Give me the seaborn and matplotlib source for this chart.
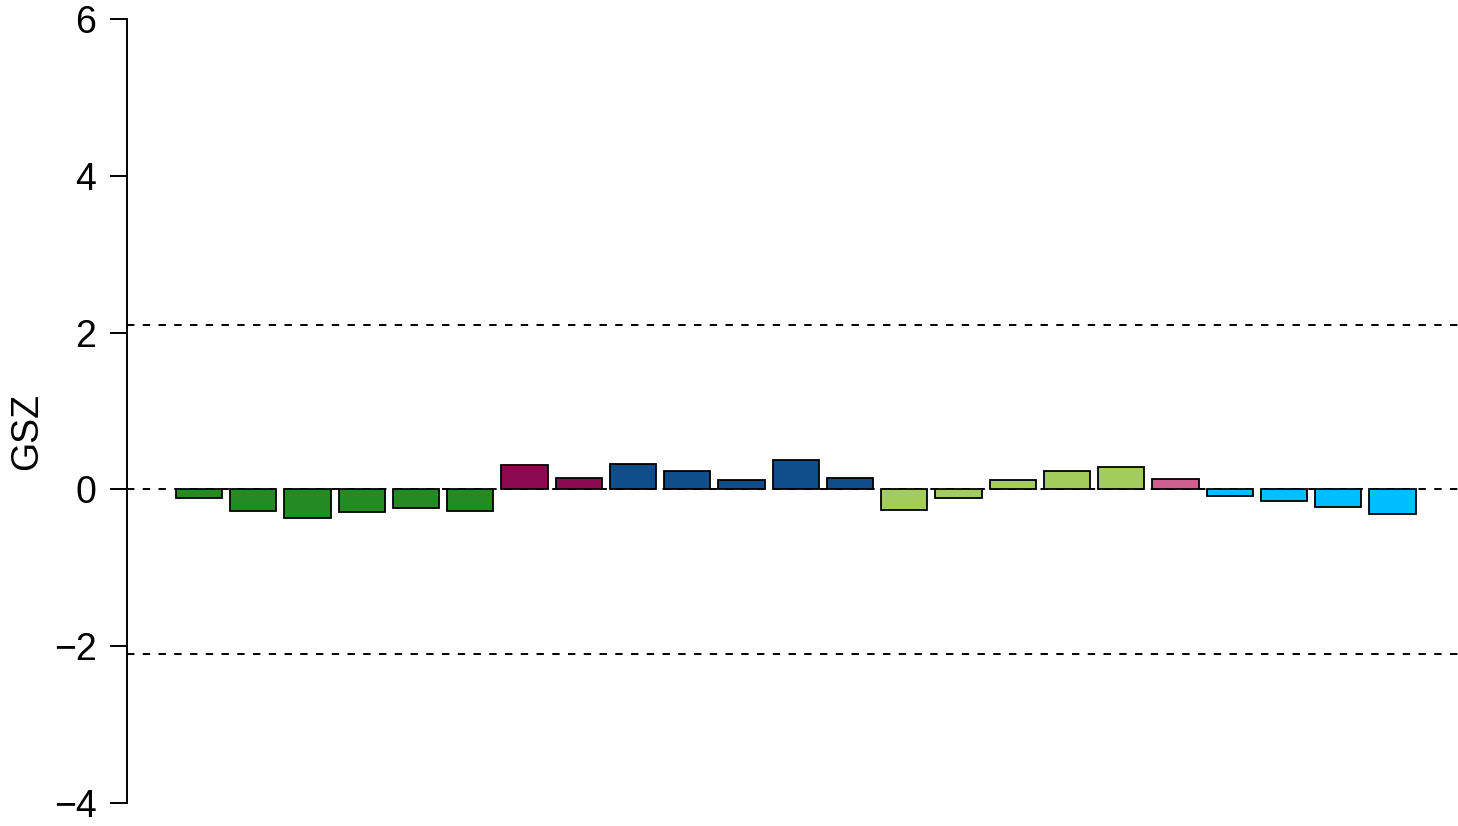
import numpy as np
import pandas as pd
import seaborn as sns
import matplotlib.pyplot as plt

# values
bar_ids = [f'b{i + 1}' for i in range(23)]
gsz = [-0.11, -0.27, -0.36, -0.29, -0.24, -0.27,
       0.31, 0.14,
       0.32, 0.24, 0.115, 0.38, 0.145,
       -0.26, -0.105, 0.125, 0.23, 0.29,
       0.13,
       -0.08, -0.15, -0.23, -0.32]
groups = ['g1'] * 6 + ['g2'] * 2 + ['g3'] * 5 + ['g4'] * 5 + ['g5'] * 1 + ['g6'] * 4
group_colors = {'g1': '#228B22', 'g2': '#8B0A50', 'g3': '#104E8B',
                'g4': '#A2CD5A', 'g5': '#CD6090', 'g6': '#00BFFF'}
cutoff = 2.1

df = pd.DataFrame({'id': bar_ids, 'GSZ': gsz, 'group': groups})

sns.set_style('ticks')
plt.rcParams['font.family'] = ['Liberation Sans', 'DejaVu Sans']
plt.rcParams['font.size'] = 27
plt.rcParams['text.color'] = 'black'
plt.rcParams['axes.labelcolor'] = 'black'
plt.rcParams['ytick.color'] = 'black'
plt.rcParams['axes.edgecolor'] = 'black'

fig = plt.figure(figsize=(14.58, 8.26), dpi=100)
# y: 6 at 19px, -4 at 803px from top; x: axis line at 127px
px_per_unit = 78.4
ytop = 6 + 19 / px_per_unit
ybot = -4 - 23 / px_per_unit
ax = fig.add_axes([127 / 1458, 0, 1 - 127 / 1458, 1])

for y in [cutoff, 0, -cutoff]:
    ax.axhline(y, color='black', linestyle=(0, (3.8, 4.3)), linewidth=1.4, zorder=0)

sns.barplot(data=df, x='id', y='GSZ', hue='group', palette=group_colors,
            saturation=1, dodge=False, width=0.85, edgecolor='black', linewidth=1.3,
            legend=False, ax=ax, zorder=2)

step = 54.25
ax.set_xlim(-(199 - 127) / step, (1458 - 199) / step)
ax.set_ylim(ybot, ytop)
ax.set_yticks([-4, -2, 0, 2, 4, 6])
ax.set_yticklabels(['\u22124', '\u22122', '0', '2', '4', '6'])
ax.spines['left'].set_bounds(-4, 6)
ax.spines['left'].set_linewidth(1.4)
for s in ['top', 'right', 'bottom']:
    ax.spines[s].set_visible(False)
ax.set_xticks([])
ax.set_xlabel('')
ax.tick_params(axis='y', length=12, width=1.4, pad=10, labelsize=27)
ax.set_ylabel('GSZ', fontsize=27)
ax.yaxis.set_label_coords((45 - 127) / 1331, 1 - 431 / 826)
ax.patch.set_alpha(0)

fig.savefig('out.png', dpi=100)
